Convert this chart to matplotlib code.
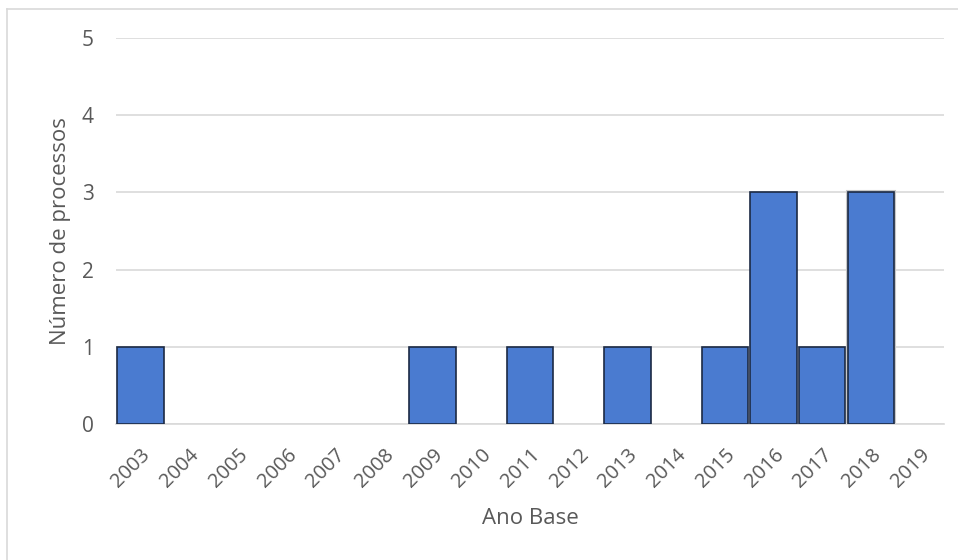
import matplotlib.pyplot as plt
from matplotlib.patches import Rectangle
from matplotlib.lines import Line2D

anos = [str(a) for a in range(2003, 2020)]
processos = [1, 0, 0, 0, 0, 0, 1, 0, 1, 0, 1, 0, 1, 3, 1, 3, 0]
selecionado = "2018"

plt.rcParams["font.family"] = ["Open Sans", "DejaVu Sans"]
cinza = "#595959"

fig = plt.figure(figsize=(9.58, 5.6), dpi=100)
ax = fig.add_axes([0.1211, 0.2429, 0.8643, 0.6891])

pos = list(range(len(anos)))
# só desenha as barras com valor
px = [p for p, v in zip(pos, processos) if v > 0]
pv = [v for v in processos if v > 0]
ax.bar(px, pv, width=0.95, color="#4a7bd0",
       edgecolor="#1c2a44", linewidth=1.2, zorder=3)

# contorno cinza de seleção em volta da barra de 2018
i = anos.index(selecionado)
ax.add_patch(Rectangle((i - 0.5, 0), 1.0, processos[i] + 0.02,
                       fill=False, edgecolor="#c8c8c8", linewidth=1.5, zorder=2))

ax.set_xlim(-0.5, len(anos) - 0.5)
ax.set_ylim(0, 5)
ax.set_yticks(range(6))
ax.yaxis.grid(True, color="#d9d9d9", linewidth=1.2, zorder=0)
ax.set_axisbelow(True)

for s in ["top", "right", "left"]:
    ax.spines[s].set_visible(False)
ax.spines["bottom"].set_color("#d9d9d9")
ax.spines["bottom"].set_linewidth(1.2)

ax.set_xticks(pos)
ax.set_xticklabels(anos, rotation=45, ha="right", rotation_mode="anchor",
                   fontsize=14.5, color=cinza)
ax.tick_params(axis="x", length=0, pad=15)
ax.tick_params(axis="y", length=0, pad=16, labelsize=15, labelcolor=cinza)

ax.set_xlabel("Ano Base", fontsize=16, color=cinza, labelpad=12)
ax.set_ylabel("Número de processos", fontsize=16, color=cinza, labelpad=8)

# moldura do gráfico (lado esquerdo e topo)
fig.add_artist(Line2D([7 / 958, 7 / 958], [0, 1 - 9 / 560],
                      color="#d9d9d9", linewidth=1.2, transform=fig.transFigure))
fig.add_artist(Line2D([7 / 958, 1], [1 - 9 / 560, 1 - 9 / 560],
                      color="#d9d9d9", linewidth=1.2, transform=fig.transFigure))

fig.savefig("out.png", dpi=100, facecolor="white")
